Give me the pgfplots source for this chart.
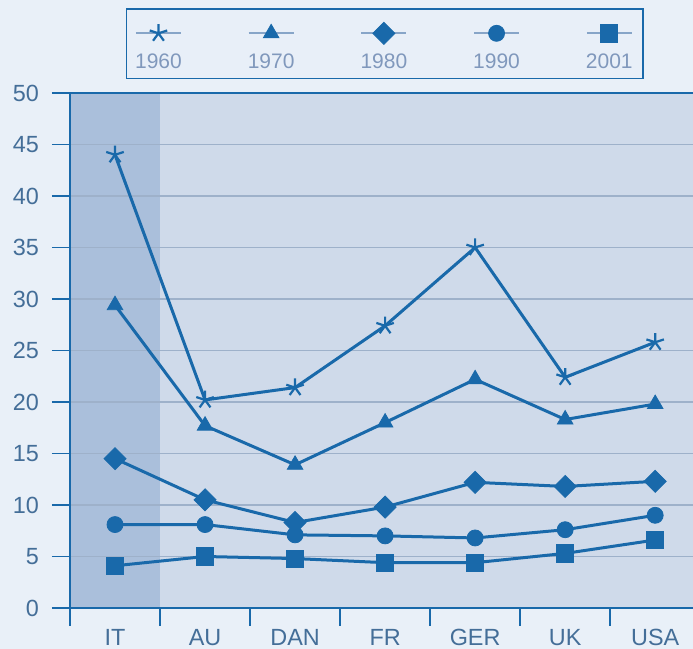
\documentclass[border=0pt]{standalone}
\usepackage{fontspec}
\setmainfont{Liberation Sans}
\usepackage{pgfplots}
\pgfplotsset{compat=1.18}
\definecolor{lineblue}{RGB}{25,105,170}
\definecolor{legline}{RGB}{135,165,200}
\definecolor{legtxt}{RGB}{128,152,188}
\definecolor{txtc}{RGB}{68,110,152}
\definecolor{gridc}{RGB}{158,177,202}
\definecolor{plotbg}{RGB}{207,218,234}
\definecolor{itcol}{RGB}{170,191,219}
\definecolor{outerbg}{RGB}{233,240,248}
\definecolor{legbg}{RGB}{232,239,248}
\pagecolor{outerbg}
\pgfplotsset{
 leg/.style={legend image code/.code={
   \path (0pt,8pt);
   \draw[line width=1pt, draw=legline] (0pt,0pt) -- (22.5pt,0pt);
   \draw[##1] plot coordinates {(11.25pt,0pt)};
   \node[anchor=base, text=legtxt, font=\fontsize{10.5}{12}\selectfont, inner sep=0pt] at (11.25pt,-17.5pt) {#1};
 }}
}
\begin{document}
\begin{tikzpicture}
\begin{axis}[
  set layers,
  at={(0pt,0pt)}, anchor=south west,
  width=311.5pt, height=257.5pt, scale only axis,
  xmin=-0.5, xmax=6.42, ymin=0, ymax=50,
  axis lines*=left,
  axis line style={lineblue, line width=1pt},
  ytick={0,5,...,45},
  extra y ticks={50},
  extra y tick labels={50},
  extra y tick style={major grid style={lineblue, line width=1pt}},
  ymajorgrids,
  grid style={gridc, line width=0.8pt},
  xtick={0,...,6},
  xticklabels={IT,AU,DAN,FR,GER,UK,USA},
  minor xtick={-0.5,0.5,...,5.5},
  tick align=outside,
  major tick length=9pt,
  minor tick length=9pt,
  major x tick style={draw=none},
  major y tick style={lineblue, line width=0.9pt},
  minor x tick style={lineblue, line width=0.9pt},
  ticklabel style={font=\fontsize{11.7}{13}\selectfont, text=txtc},
  yticklabel style={xshift=-3pt},
  xticklabel style={yshift=2pt},
  /pgf/number format/assume math mode=true,
  legend columns=5,
  legend style={at={(0.505,1.096)}, anchor=center, draw=lineblue, fill=legbg,
    line width=0.8pt, inner xsep=4pt, inner ysep=3.5pt,
    nodes={inner sep=0pt},
    /tikz/every even column/.append style={column sep=31.6pt}},
]
\begin{pgfonlayer}{axis background}
\fill[plotbg] (rel axis cs:0,0) rectangle (rel axis cs:1,1);
\fill[itcol] (axis cs:-0.5,0) rectangle (axis cs:0.5,50);
\end{pgfonlayer}
\addplot[lineblue, line width=1.5pt, mark=star, mark size=4.6pt, mark options={line width=1.1pt}, leg=1960]
 coordinates {(0,44.0) (1,20.2) (2,21.4) (3,27.4) (4,35.0) (5,22.4) (6,25.8)};
\addlegendentry{}
\addplot[lineblue, line width=1.5pt, mark=triangle*, mark size=4.5pt, mark options={fill=lineblue, line width=0.4pt}, leg=1970]
 coordinates {(0,29.4) (1,17.7) (2,13.9) (3,18.0) (4,22.2) (5,18.3) (6,19.8)};
\addlegendentry{}
\addplot[lineblue, line width=1.5pt, mark=square*, mark size=3.9pt, mark options={rotate=45, fill=lineblue, line width=0.4pt}, leg=1980]
 coordinates {(0,14.5) (1,10.5) (2,8.3) (3,9.8) (4,12.2) (5,11.8) (6,12.3)};
\addlegendentry{}
\addplot[lineblue, line width=1.5pt, mark=*, mark size=4pt, mark options={fill=lineblue, line width=0.4pt}, leg=1990]
 coordinates {(0,8.1) (1,8.1) (2,7.1) (3,7.0) (4,6.8) (5,7.6) (6,9.0)};
\addlegendentry{}
\addplot[lineblue, line width=1.5pt, mark=square*, mark size=4.3pt, mark options={fill=lineblue, line width=0.4pt}, leg=2001]
 coordinates {(0,4.1) (1,5.0) (2,4.8) (3,4.4) (4,4.4) (5,5.3) (6,6.6)};
\addlegendentry{}
\end{axis}
\pgfresetboundingbox
\path[use as bounding box] (-35pt,-20.5pt) rectangle (311.5pt,304pt);
\end{tikzpicture}
\end{document}
